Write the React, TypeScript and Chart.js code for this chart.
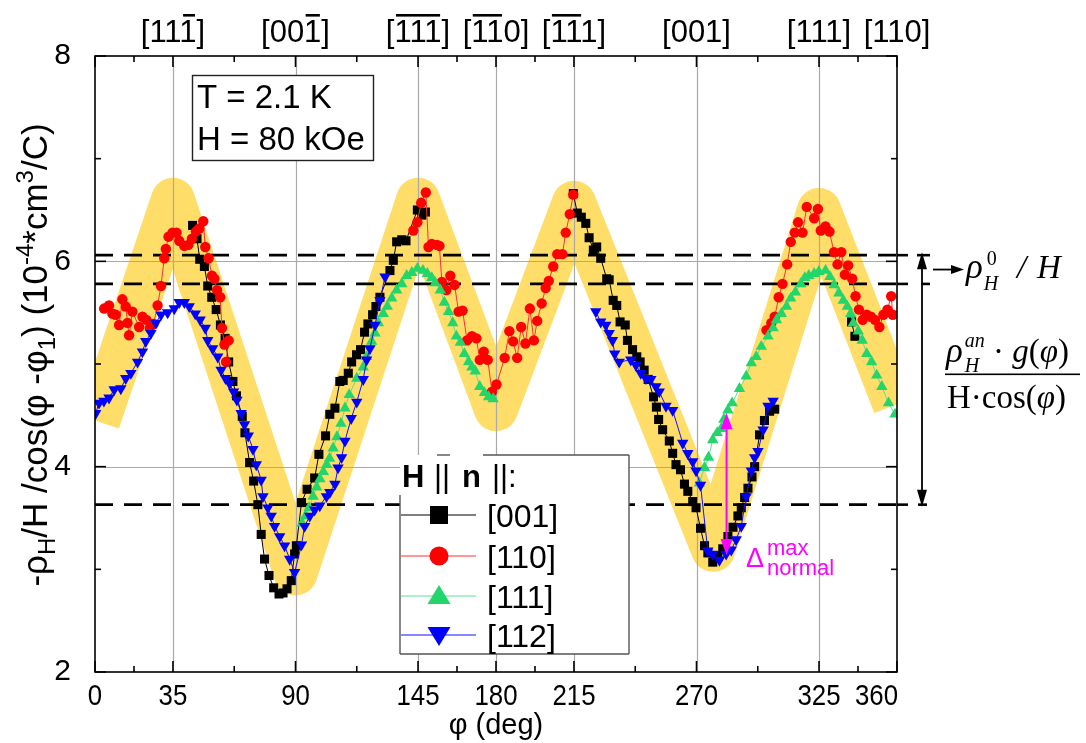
import { useEffect, useRef } from 'react';
import { Chart, registerables } from 'chart.js';

Chart.register(...registerables);

const W = 1086;
const H = 743;
const SANS = '"Liberation Sans", Arial, sans-serif';
const SERIF = '"Liberation Serif", "Times New Roman", serif';

// φ axis: labelled ticks, minor ticks and grid positions
const PHI_TICKS = [0, 35, 90, 145, 180, 215, 270, 325, 360];
const PHI_MINOR = [17.5, 62.5, 117.5, 162.5, 197.5, 242.5, 297.5, 342.5];
const PHI_GRID = [35, 90, 145, 180, 215, 270, 325];
// crystal directions above the plot; DIR_BARS = indices of overlined characters
const DIR_LABELS = ['', '[111]', '[001]', '[111]', '[110]', '[111]', '[001]', '[111]', '[110]'];
const DIR_BARS = [[], [3], [3], [1, 2, 3], [1, 2], [1, 2], [], [], []];

// ρ axis
const RHO_TICKS = [2, 4, 6, 8];
const RHO_MINOR = [3, 5, 7];
const RHO_GRID = [4, 6];
// ρH0/H bounds and the lower bound of the anomalous part
const LEVELS = [6.06, 5.78, 3.63];

// guide band (normal-state zig-zag)
const BAND_PHI = [1.4, 35, 90, 145, 180, 215, 277.5, 325, 359];
const BAND_RHO = [4.44, 6.6, 2.96, 6.6, 4.56, 6.57, 3.19, 6.5, 4.6];

// H || [001]
const PHI_001 = [
  43.8, 45.8, 47.0, 49.1, 50.6, 52.4, 54.4, 56.3, 58.4, 60.0, 61.9, 63.5, 66.1, 67.3, 69.4, 71.2,
  73.1, 74.6, 76.1, 78.1, 80.2, 82.6, 84.4, 86.2, 88.1, 89.6, 90.4, 92.7, 95.2, 98.6, 100.5, 103.5,
  105.4, 107.7, 109.9, 111.4, 113.7, 115.2, 117.4, 119.2, 121.0, 122.5, 124.6, 126.1, 127.9, 132.4,
  133.9, 135.4, 137.7, 139.6, 144.7, 146.7, 148.3, 180,
  214.7, 216.5, 218.3, 220.3, 221.8, 223.7, 225.2, 227.0, 229.7, 230.8, 232.6, 234.2, 235.7, 238.0,
  239.0, 241.3, 243.2, 244.7, 246.5, 248.3, 250.7, 252.0, 253.0, 254.8, 257.8, 259.3, 260.8, 262.8,
  264.6, 266.1, 268.3, 269.8, 271.8, 273.6, 275.1, 277.3, 279.6, 281.8, 284.1, 286.4, 288.6, 290.1,
  291.6, 293.1, 294.9, 296.1, 298.3, 300.5, 302.8, 305.1, 322,
  339.6, 341.1,
];
const RHO_001 = [
  6.35, 6.22, 6.02, 5.95, 5.76, 5.65, 5.53, 5.38, 5.25, 5.02, 4.83, 4.69, 4.49, 4.33, 4.04, 3.86,
  3.63, 3.34, 3.1, 2.94, 2.82, 2.76, 2.77, 2.81, 2.89, 3.15, 3.23, 3.65, 3.78, 3.89, 4.12, 4.3,
  4.51, 4.57, 4.83, 4.84, 4.91, 5.02, 5.09, 5.14, 5.31, 5.39, 5.48, 5.56, 5.65, 5.91,
  6.01, 6.19, 6.21, 6.2, 6.5, 6.45, 6.48, null,
  6.66, 6.47, 6.43, 6.37, 6.23, 6.11, 6.14, 6.03, 5.83, 5.82, 5.62, 5.57, 5.41, 5.38,
  5.23, 5.14, 5.07, 5.02, 4.94, 4.85, 4.68, 4.58, 4.46, 4.36, 4.25, 4.13, 4.02, 3.97,
  3.83, 3.76, 3.66, 3.6, 3.4, 3.23, 3.16, 3.07, 3.13, 3.2, 3.32, 3.41, 3.52, 3.6,
  3.7, 3.79, 3.9, 4.0, 4.31, 4.45, 4.54, 4.56, null,
  5.41, 5.27,
];

// H || [110]
const PHI_110 = [
  4.1, 6.3, 7.8, 9.3, 10.8, 12.3, 13.8, 14.6, 15.3, 16.8, 19.8, 21.3, 23.1, 24.6, 26.3, 28.1, 29.6,
  31.1, 31.8, 33.0, 34.8, 36.6, 37.8, 40.1, 41.9, 43.5, 45.3, 46.8, 48.6, 49.5, 51.0, 52.5, 53.6,
  54.8, 56.2, 57.0, 58.1, 60.0, 58.8, 100,
  142.9, 144.7, 146.4, 148.5, 149.7, 151.2, 153.5, 154.6, 155.7, 157.7, 159.5, 161.4, 163.2, 165.0,
  167.0, 169.2, 171.2, 172.7, 174.5, 176.3, 178.2, 180.2, 183.9, 186.0, 187.7, 189.5, 191.3, 193.2,
  195.2, 197.0, 198.5, 200.5, 202.3, 203.7, 205.7, 207.5, 209.8, 211.3, 213.1, 214.7, 260,
  301.4, 303.6, 305.1, 306.9, 308.6, 310.7, 312.3, 314.1, 315.6, 317.6, 319.5, 322.8, 324.5, 325.8,
  327.9, 329.7, 331.7, 333.3, 335.0, 336.6, 338.1, 339.9, 341.4, 342.9, 344.6, 346.4, 348.3, 350.1,
  352.1, 353.9, 355.7, 357.4, 358.1,
];
const RHO_110 = [
  5.54, 5.57, 5.49, 5.48, 5.38, 5.63, 5.56, 5.4, 5.28, 5.51, 5.36, 5.46, 5.43, 5.35, 5.39, 5.57, 5.76,
  6.03, 6.12, 6.24, 6.28, 6.28, 6.2, 6.15, 6.16, 6.22, 6.29, 6.32, 6.39, 6.14, 6.03, 5.86, 5.83,
  5.72, 5.65, 5.35, 5.19, 5.23, 5.02, null,
  6.3, 6.38, 6.57, 6.67, 6.14, 6.17, 6.16, 6.15, 5.8, 5.72, 5.86, 5.77, 5.51, 5.52,
  5.23, 5.27, 5.25, 5.04, 5.12, 5.04, 4.73, 4.8, 5.06, 5.32, 5.22, 5.06, 5.36, 5.2,
  5.54, 5.23, 5.42, 5.59, 5.74, 5.81, 5.95, 6.07, 6.07, 6.28, 6.46, 6.65, null,
  5.33, 5.4, 5.46, 5.65, 5.78, 5.97, 6.19, 6.28, 6.38, 6.28, 6.53, 6.42, 6.51, 6.3,
  6.34, 6.29, 6.09, 5.97, 6.09, 5.87, 5.96, 5.83, 5.66, 5.53, 5.43, 5.48, 5.46, 5.43,
  5.36, 5.48, 5.53, 5.66, 5.48,
];

// H || [111]
const PHI_111 = [
  93.0, 94.5, 96.1, 97.9, 99.5, 101.0, 102.5, 104.0, 105.3, 106.9, 108.6, 110.4, 112.2, 114.1, 117.5,
  120.4, 121.9, 124.2, 125.7, 127.2, 129.4, 131.2, 133.2, 135.4, 137.7, 139.9, 142.2, 144.7, 147.2,
  149.2, 151.2, 152.7, 155.0, 156.8, 158.7, 160.6, 162.2, 164.0, 165.8, 167.7, 169.2, 170.7, 172.7,
  174.8, 176.7, 178.7, 225,
  271.3, 273.6, 275.4, 277.3, 279.3, 281.1, 282.3, 284.1, 286.0, 289.3, 292.3, 294.6, 296.8, 299.1,
  302.1, 304.4, 305.9, 308.1, 310.4, 312.3, 314.4, 316.8, 318.6, 320.4, 322.8, 324.9, 327.9, 329.9,
  331.8, 333.9, 335.9, 337.7, 339.2, 340.4, 342.6, 344.4, 346.4, 348.6, 350.9, 353.2, 356.2, 359.1,
];
const RHO_111 = [
  3.45, 3.52, 3.6, 3.71, 3.8, 3.88, 3.95, 4.02, 4.08, 4.18, 4.29, 4.42, 4.57, 4.7, 4.86,
  4.97, 5.07, 5.22, 5.3, 5.4, 5.49, 5.56, 5.64, 5.72, 5.78, 5.86, 5.89, 5.93, 5.91,
  5.88, 5.84, 5.79, 5.72, 5.6, 5.51, 5.4, 5.27, 5.21, 5.1, 5.02, 4.97, 4.93, 4.78,
  4.72, 4.68, 4.66, null,
  3.84, 3.99, 4.09, 4.26, 4.33, 4.37, 4.46, 4.55, 4.62, 4.76, 4.88, 5.01, 5.07, 5.17,
  5.27, 5.35, 5.43, 5.49, 5.56, 5.64, 5.7, 5.78, 5.84, 5.86, 5.88, 5.9, 5.91, 5.85,
  5.77, 5.69, 5.62, 5.56, 5.49, 5.4, 5.32, 5.23, 5.1, 5.02, 4.89, 4.78, 4.62, 4.51,
];

// H || [112]
const PHI_112 = [
  0.3, 1.8, 4.0, 6.3, 8.6, 11.6, 13.8, 16.1, 19.1, 21.3, 22.8, 25.1, 27.3, 29.6, 32.6, 35.6, 37.8,
  40.1, 42.3, 45.0, 47.2, 49.5, 50.6, 52.8, 55.1, 56.6, 58.6, 60.4, 62.2, 63.7, 65.6, 67.1, 68.8,
  70.9, 72.4, 74.6, 75.4, 77.6, 79.1, 80.6, 82.9, 85.1, 87.4, 89.6, 92.7, 94.1, 96.4, 98.6, 100.9,
  103.9, 105.4, 107.7, 109.1, 110.7, 112.2, 115.0, 117.5, 120.4, 121.9, 123.4, 125.7, 127.9, 130.2, 180,
  224.8, 227.0, 229.3, 230.8, 232.3, 233.3, 235.3, 240.5, 242.8, 245.0, 247.3, 249.5, 251.8, 253.3,
  256.3, 259.3, 263.8, 266.1, 268.3, 269.8, 271.8, 275.1, 277.3, 280.3, 283.3, 285.6, 287.8, 290.1,
  292.3, 294.6, 296.1, 297.6, 299.9, 302.1, 304.4,
];
const RHO_112 = [
  4.52, 4.62, 4.64, 4.67, 4.75, 4.76, 4.86, 4.91, 5.02, 5.12, 5.22, 5.3, 5.4, 5.48, 5.5, 5.54, 5.6,
  5.6, 5.56, 5.49, 5.43, 5.35, 5.23, 5.15, 5.07, 4.94, 4.86, 4.81, 4.73, 4.65, 4.52, 4.41, 4.3,
  4.17, 4.02, 3.87, 3.71, 3.6, 3.52, 3.42, 3.32, 3.23, 3.1, 2.97, 3.24, 3.42, 3.52, 3.58, 3.62,
  3.71, 3.75, 3.83, 3.99, 4.09, 4.25, 4.47, 4.63, 4.85, 5.04, 5.15, 5.38, 5.62, 5.85, null,
  5.51, 5.41, 5.38, 5.3, 5.23, 5.1, 5.02, 5.04, 4.99, 4.91, 4.86, 4.85, 4.78, 4.73,
  4.59, 4.55, 4.23, 4.13, 4.05, 3.96, 3.82, 3.18, 3.15, 3.09, 3.15, 3.19, 3.29, 3.42,
  3.71, 3.96, 4.09, 4.15, 4.36, 4.59, 4.64,
];

// Δ_normal^max marker
const DELTA_PHI = 283.5;
const DELTA_TOP = 4.52;
const DELTA_BOTTOM = 3.14;

const pts = (xs: number[], ys: (number | null)[]) => xs.map((x, i) => ({ x, y: ys[i] }));

type Run = { t: string; f: string; dy?: number };

function drawRuns(ctx: CanvasRenderingContext2D, runs: Run[], x: number, y: number) {
  let cx = x;
  for (const r of runs) {
    ctx.font = r.f;
    ctx.fillText(r.t, cx, y + (r.dy || 0));
    cx += ctx.measureText(r.t).width;
  }
  return cx;
}

function runsWidth(ctx: CanvasRenderingContext2D, runs: Run[]) {
  let w = 0;
  for (const r of runs) {
    ctx.font = r.f;
    w += ctx.measureText(r.t).width;
  }
  return w;
}

function head(ctx: CanvasRenderingContext2D, x: number, y: number, dx: number, dy: number, len: number, half: number) {
  const bx = x - dx * len;
  const by = y - dy * len;
  ctx.beginPath();
  ctx.moveTo(x, y);
  ctx.lineTo(bx - dy * half, by + dx * half);
  ctx.lineTo(bx + dy * half, by - dx * half);
  ctx.closePath();
  ctx.fill();
}

function seg(ctx: CanvasRenderingContext2D, x1: number, y1: number, x2: number, y2: number) {
  ctx.beginPath();
  ctx.moveTo(x1, y1);
  ctx.lineTo(x2, y2);
  ctx.stroke();
}

function legendMarker(ctx: CanvasRenderingContext2D, style: string, rot: number, cx: number, cy: number, color: string) {
  ctx.fillStyle = color;
  ctx.beginPath();
  if (style === 'rect') {
    ctx.rect(cx - 9, cy - 9, 18, 18);
  } else if (style === 'circle') {
    ctx.arc(cx, cy, 9.5, 0, Math.PI * 2);
  } else if (rot === 180) {
    ctx.moveTo(cx, cy + 11);
    ctx.lineTo(cx + 11.5, cy - 8);
    ctx.lineTo(cx - 11.5, cy - 8);
  } else {
    ctx.moveTo(cx, cy - 11);
    ctx.lineTo(cx + 11.5, cy + 8);
    ctx.lineTo(cx - 11.5, cy + 8);
  }
  ctx.closePath();
  ctx.fill();
}

const decor = {
  id: 'decor',
  afterDatasetDraw(chart: any, args: any) {
    if (args.index !== 0) return;
    const ctx: CanvasRenderingContext2D = chart.ctx;
    const { left, right, top, bottom } = chart.chartArea;
    const xs = chart.scales.x;
    const ys = chart.scales.y;
    ctx.save();
    // grid above the band
    ctx.strokeStyle = '#a9a9a9';
    ctx.lineWidth = 1.2;
    for (const v of PHI_GRID) {
      const X = Math.round(xs.getPixelForValue(v)) + 0.5;
      seg(ctx, X, top, X, bottom);
    }
    for (const v of RHO_GRID) {
      const Y = Math.round(ys.getPixelForValue(v)) + 0.5;
      seg(ctx, left, Y, right, Y);
    }
    // reference levels
    ctx.strokeStyle = '#000';
    ctx.lineWidth = 2.6;
    ctx.setLineDash([18, 11]);
    for (const v of LEVELS) {
      const Y = ys.getPixelForValue(v);
      seg(ctx, left, Y, right, Y);
    }
    ctx.setLineDash([]);
    ctx.restore();
  },
  afterDatasetsDraw(chart: any) {
    const ctx: CanvasRenderingContext2D = chart.ctx;
    const { left, right, top, bottom } = chart.chartArea;
    const xs = chart.scales.x;
    const ys = chart.scales.y;
    const X = (v: number) => xs.getPixelForValue(v);
    const Y = (v: number) => ys.getPixelForValue(v);
    ctx.save();

    // frame and inward ticks
    ctx.strokeStyle = '#000';
    ctx.lineWidth = 1.6;
    ctx.strokeRect(left, top, right - left, bottom - top);
    for (const v of PHI_TICKS) {
      seg(ctx, X(v), bottom, X(v), bottom - 11);
      seg(ctx, X(v), top, X(v), top + 11);
    }
    for (const v of PHI_MINOR) {
      seg(ctx, X(v), bottom, X(v), bottom - 6);
      seg(ctx, X(v), top, X(v), top + 6);
    }
    for (const v of RHO_TICKS) {
      seg(ctx, left, Y(v), left + 11, Y(v));
      seg(ctx, right, Y(v), right - 11, Y(v));
    }
    for (const v of RHO_MINOR) {
      seg(ctx, left, Y(v), left + 6, Y(v));
      seg(ctx, right, Y(v), right - 6, Y(v));
    }

    // φ tick labels (slightly condensed); the last one is kept inside the frame
    ctx.fillStyle = '#000';
    ctx.textBaseline = 'alphabetic';
    ctx.font = `30px ${SANS}`;
    const sq = 0.86;
    PHI_TICKS.forEach((v, i) => {
      const last = i === PHI_TICKS.length - 1;
      const w = ctx.measureText(String(v)).width * sq;
      const x0 = last ? X(v) + 1 - w : X(v) - w / 2;
      ctx.save();
      ctx.translate(x0, 705);
      ctx.scale(sq, 1);
      ctx.textAlign = 'left';
      ctx.fillText(String(v), 0, 0);
      ctx.restore();
    });
    ctx.textAlign = 'left';

    // crystal directions along the top edge
    ctx.font = `31px ${SANS}`;
    const capH = ctx.measureText('1').actualBoundingBoxAscent || 22;
    const base = 42;
    DIR_LABELS.forEach((lab, i) => {
      if (!lab) return;
      const w = ctx.measureText(lab).width;
      const x0 = X(PHI_TICKS[i]) - w / 2;
      ctx.fillText(lab, x0, base);
      const bars = DIR_BARS[i];
      if (bars.length) {
        const a = bars[0];
        const b = bars[bars.length - 1];
        const bx0 = x0 + ctx.measureText(lab.slice(0, a)).width + 1.5;
        const bx1 = x0 + ctx.measureText(lab.slice(0, b + 1)).width - 1.5;
        ctx.fillRect(bx0, base - capH - 6, bx1 - bx0, 2.6);
      }
    });

    // level markers beyond the right edge
    ctx.strokeStyle = '#000';
    ctx.lineWidth = 2.6;
    const yA = Y(LEVELS[0]);
    const yB = Y(LEVELS[1]);
    const yC = Y(LEVELS[2]);
    seg(ctx, right, yA, right + 11, yA);
    seg(ctx, right + 20, yA, right + 33, yA);
    seg(ctx, right, yB, right + 11, yB);
    seg(ctx, right + 24, yB, right + 33, yB);
    seg(ctx, right, yC, right + 11, yC);
    seg(ctx, right + 21, yC, right + 30, yC);
    // double arrow spanning the anomalous part
    const ax = right + 25;
    ctx.lineWidth = 1.8;
    seg(ctx, ax, yA + 10, ax, yC - 10);
    ctx.fillStyle = '#000';
    head(ctx, ax, yA - 3, 0, -1, 17, 5);
    head(ctx, ax, yC + 2, 0, 1, 17, 5);
    // pointer to ρH0/H
    const yp = (yA + yB) / 2;
    seg(ctx, right + 36, yp, right + 56, yp);
    head(ctx, right + 67, yp, 1, 0, 13, 4.5);

    // ρH0 / H
    const it = (s: number) => `italic ${s}px ${SERIF}`;
    const up = (s: number) => `${s}px ${SERIF}`;
    ctx.fillStyle = '#000';
    ctx.font = it(35);
    ctx.fillText('ρ', 966, 278);
    let sx = 966 + ctx.measureText('ρ').width + 1;
    ctx.font = it(20);
    ctx.fillText('H', sx, 290);
    ctx.font = up(20);
    ctx.fillText('0', sx + 3, 265);
    ctx.font = it(33);
    ctx.fillText('/', 1017, 278);
    ctx.fillText('H', 1037, 278);

    // anomalous term ρHan·g(φ) / H·cos(φ)
    ctx.font = it(35);
    ctx.fillText('ρ', 946, 362);
    sx = 946 + ctx.measureText('ρ').width + 2;
    ctx.font = it(20);
    ctx.fillText('an', sx, 347);
    const wan = ctx.measureText('an').width;
    ctx.fillText('H', sx, 372);
    drawRuns(
      ctx,
      [
        { t: ' · ', f: up(33) },
        { t: 'g', f: it(33) },
        { t: '(', f: up(33) },
        { t: 'φ', f: it(33) },
        { t: ')', f: up(33) },
      ],
      sx + wan,
      362,
    );
    ctx.fillRect(945, 373.5, 135, 1.6);
    drawRuns(
      ctx,
      [
        { t: 'H·cos(', f: up(33) },
        { t: 'φ', f: it(33) },
        { t: ')', f: up(33) },
      ],
      947,
      408,
    );

    // conditions box
    ctx.lineWidth = 1.4;
    ctx.strokeStyle = '#222';
    ctx.fillStyle = '#fff';
    ctx.fillRect(192, 75, 181, 85);
    ctx.strokeRect(192.5, 75.5, 181, 85);
    ctx.fillStyle = '#000';
    ctx.font = `33px ${SANS}`;
    ctx.fillText('T = 2.1 K', 197, 108);
    ctx.fillText('H = 80 kOe', 197, 150);

    // Δ normal max
    const dx = X(DELTA_PHI);
    const dTop = Y(DELTA_TOP);
    const dBot = Y(DELTA_BOTTOM);
    ctx.strokeStyle = '#ff00ff';
    ctx.fillStyle = '#ff00ff';
    ctx.lineWidth = 2;
    seg(ctx, dx, dTop + 12, dx, dBot - 12);
    head(ctx, dx, dTop, 0, -1, 16, 6);
    head(ctx, dx, dBot, 0, 1, 16, 6);
    ctx.font = `27px ${SANS}`;
    ctx.fillText('Δ', 746, 567);
    ctx.font = `22px ${SANS}`;
    ctx.fillText('max', 767, 555);
    ctx.fillText('normal', 767, 575);

    // legend
    const lx = 400;
    const ly = 455;
    const lw = 229;
    const lh = 199;
    ctx.fillStyle = '#fff';
    ctx.fillRect(lx, ly, lw, lh);
    ctx.strokeStyle = '#555';
    ctx.lineWidth = 1.4;
    seg(ctx, 437, ly, 450, ly);
    seg(ctx, 483, ly, lx + lw, ly);
    seg(ctx, lx + lw, ly, lx + lw, ly + lh);
    seg(ctx, lx, ly + lh, lx + lw, ly + lh);
    seg(ctx, lx, ly + 40, lx, ly + lh);
    ctx.fillStyle = '#000';
    ctx.font = `bold 31px ${SANS}`;
    ctx.fillText('H', 402, 487);
    ctx.fillText('n', 462, 487);
    ctx.font = `31px ${SANS}`;
    ctx.fillText('||', 434, 487);
    ctx.fillText('||:', 492, 487);
    const rows = [515, 556, 596, 635];
    chart.data.datasets.slice(1).forEach((ds: any, i: number) => {
      const ry = rows[i];
      ctx.strokeStyle = ds.borderColor;
      ctx.lineWidth = 1.2;
      seg(ctx, 401, ry, 476, ry);
      legendMarker(ctx, ds.pointStyle, ds.pointRotation || 0, 439, ry, ds.pointBackgroundColor);
      ctx.fillStyle = '#000';
      ctx.font = `32px ${SANS}`;
      ctx.fillText(ds.label, 487, ry + 12);
    });

    // y-axis title with sub/superscripts
    const big = `35px ${SANS}`;
    const small = `24px ${SANS}`;
    const runs: Run[] = [
      { t: '-ρ', f: big },
      { t: 'H', f: small, dy: 8 },
      { t: '/H /cos(φ -φ', f: big },
      { t: '1', f: small, dy: 8 },
      { t: ') (10', f: big },
      { t: '-4', f: small, dy: -14 },
      { t: '*cm', f: big },
      { t: '3', f: small, dy: -14 },
      { t: '/C)', f: big },
    ];
    ctx.translate(47, 355);
    ctx.rotate(-Math.PI / 2);
    ctx.fillStyle = '#000';
    const tw = runsWidth(ctx, runs);
    drawRuns(ctx, runs, -tw / 2, 0);
    ctx.restore();
  },
};

export default function App() {
  const ref = useRef<HTMLCanvasElement>(null);

  useEffect(() => {
    const canvas = ref.current;
    if (!canvas) return;
    const tickFont = { family: SANS, size: 30 };
    const chart = new Chart(canvas, {
      type: 'line',
      data: {
        datasets: [
          {
            label: 'band',
            data: pts(BAND_PHI, BAND_RHO),
            borderColor: 'rgb(255, 221, 105)',
            borderWidth: 44,
            borderJoinStyle: 'round',
            borderCapStyle: 'butt',
            pointRadius: 0,
            clip: 0,
            order: 10,
          },
          {
            label: '[001]',
            data: pts(PHI_001, RHO_001),
            borderColor: '#000000',
            borderWidth: 1,
            pointStyle: 'rect',
            pointRadius: 6.4,
            pointBackgroundColor: '#000000',
            pointBorderWidth: 0,
            order: 4,
          },
          {
            label: '[110]',
            data: pts(PHI_110, RHO_110),
            borderColor: '#ff3030',
            borderWidth: 1,
            pointStyle: 'circle',
            pointRadius: 5.2,
            pointBackgroundColor: '#ff0000',
            pointBorderWidth: 0,
            order: 3,
          },
          {
            label: '[111]',
            data: pts(PHI_111, RHO_111),
            borderColor: '#5ee08f',
            borderWidth: 1,
            pointStyle: 'triangle',
            pointRadius: 6.6,
            pointBackgroundColor: '#22d66b',
            pointBorderWidth: 0,
            order: 2,
          },
          {
            label: '[112]',
            data: pts(PHI_112, RHO_112),
            borderColor: '#1010ff',
            borderWidth: 1,
            pointStyle: 'triangle',
            pointRotation: 180,
            pointRadius: 6.6,
            pointBackgroundColor: '#0000ff',
            pointBorderWidth: 0,
            order: 1,
          },
        ] as any,
      },
      options: {
        responsive: false,
        animation: false,
        devicePixelRatio: 1,
        events: [],
        layout: { padding: { top: 56, right: 189, bottom: 0, left: 0 } },
        plugins: { legend: { display: false }, tooltip: { enabled: false } },
        elements: { line: { tension: 0 } },
        scales: {
          x: {
            type: 'linear',
            position: 'bottom',
            min: 0,
            max: 360,
            afterBuildTicks: (s: any) => {
              s.ticks = PHI_TICKS.map((value) => ({ value }));
            },
            afterFit: (s: any) => {
              s.height = 71;
            },
            grid: { display: false },
            border: { display: false },
            ticks: { display: false },
            title: {
              display: true,
              text: 'φ (deg)',
              color: '#000',
              font: { family: SANS, size: 29 },
              padding: { top: 0, bottom: 0 },
            },
          },
          y: {
            type: 'linear',
            min: 2,
            max: 8,
            afterBuildTicks: (s: any) => {
              s.ticks = RHO_TICKS.map((value) => ({ value }));
            },
            afterFit: (s: any) => {
              s.width = 95;
            },
            grid: { display: false },
            border: { display: false },
            ticks: { padding: 16, color: '#000', font: tickFont, callback: (v: any) => String(v) },
          },
        },
      } as any,
      plugins: [decor],
    });
    return () => chart.destroy();
  }, []);

  return (
    <div style={{ position: 'fixed', left: 0, top: 0, width: W, height: H, background: '#fff' }}>
      <canvas ref={ref} width={W} height={H} style={{ display: 'block', width: W, height: H }} />
    </div>
  );
}
